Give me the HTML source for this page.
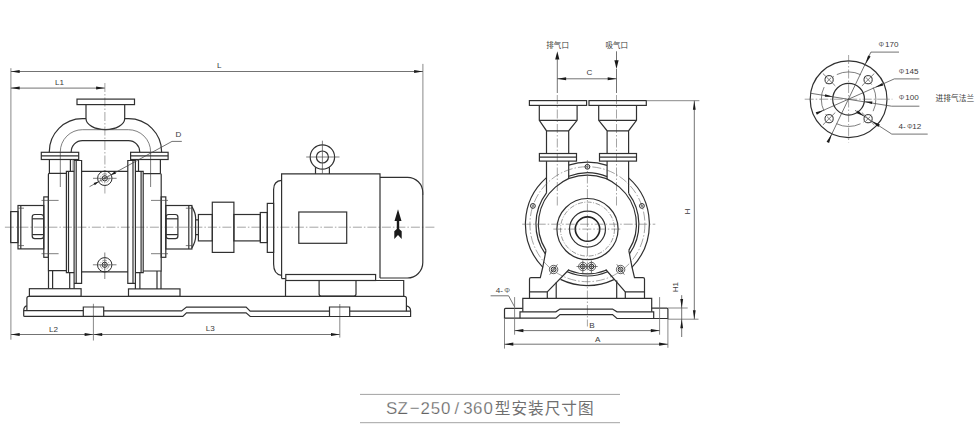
<!DOCTYPE html>
<html><head><meta charset="utf-8"><title>SZ-250/360</title>
<style>
html,body{margin:0;padding:0;background:#fff;}
body{width:980px;height:431px;overflow:hidden;font-family:"Liberation Sans",sans-serif;}
svg{display:block;position:absolute;left:0;top:0}
.m{fill:none;stroke:#303030;stroke-width:1.2}
.k{fill:none;stroke:#222;stroke-width:1.6}
.t{fill:none;stroke:#484848;stroke-width:.7}
.c{fill:none;stroke:#5a5a5a;stroke-width:.55;stroke-dasharray:9 2 1.5 2}
.h{fill:none;stroke:#555;stroke-width:.6;stroke-dasharray:5 1.5 1 1.5}
.d{fill:none;stroke:#444;stroke-width:.75}
.e{fill:none;stroke:#6a6a6a;stroke-width:.8}
.a{fill:#1a1a1a;stroke:none}
.g{fill:#3a3a3a;stroke:none}
.gt{fill:#707070;stroke:none}
.m2{fill:none;stroke:#2b2b2b;stroke-width:1}
.ph{fill:#666}
.t2{fill:none;stroke:#8a8a8a;stroke-width:.5}
.tl{fill:none;stroke:#8a8a8a;stroke-width:.8}
.tt{fill:#646464;stroke:#fff;stroke-width:.25;paint-order:fill stroke}
.b1{fill:#fff;stroke:#3a3a3a;stroke-width:.8}
.b2{fill:none;stroke:#2b2b2b;stroke-width:1}
text{font-family:"Liberation Sans",sans-serif;fill:#3a3a3a}
</style></head><body>
<svg width="980" height="431" viewBox="0 0 980 431">
<g id="side">
<path class="e" d="M10.9,68.2L10.9,339.7"/>
<path class="e" d="M422.9,63.9L422.9,195"/>
<path class="d" d="M10.9,71.5L422.9,71.5"/>
<path class="a" d="M10.9,71.5L19.7,70L19.7,73Z"/>
<path class="a" d="M422.9,71.5L414.1,73L414.1,70Z"/>
<path class="d" d="M10.9,88.1L104.9,88.1"/>
<path class="a" d="M10.9,88.1L19.7,86.5L19.7,89.6Z"/>
<path class="a" d="M104.9,88.1L96.1,89.6L96.1,86.5Z"/>
<text x="219.3" y="67.9" text-anchor="middle" font-size="8.1">L</text>
<text x="59.5" y="84.8" text-anchor="middle" font-size="8.1">L1</text>
<path class="d" d="M10.9,334.5L339.8,334.5"/>
<path class="a" d="M10.9,334.5L19.7,332.9L19.7,336.1Z"/>
<path class="a" d="M93.4,334.5L84.6,336.1L84.6,332.9Z"/>
<path class="a" d="M93.4,334.5L102.2,332.9L102.2,336.1Z"/>
<path class="a" d="M339.8,334.5L331,336.1L331,332.9Z"/>
<text x="53.4" y="331.6" text-anchor="middle" font-size="8.1">L2</text>
<text x="210.2" y="331.2" text-anchor="middle" font-size="8.1">L3</text>
<path class="e" d="M93.4,303.8L93.4,340.5"/>
<path class="e" d="M339.8,304L339.8,337.6"/>
<path class="c" d="M104.9,83L104.9,194"/>
<path class="t" d="M104.8,252.5L104.8,279"/>
<path class="c" d="M4.9,227.2L435.5,227.2"/>
<rect class="m" x="77" y="99.1" width="57.5" height="5.5"/>
<path class="m" d="M86,104.6V118.6A19.35,11 0 0 0 124.7,118.6V104.6"/>
<path class="m" d="M49.3,152.3V151.8A33.1,33.1 0 0 1 82.4,118.6H86"/>
<path class="m" d="M124.7,118.6H128.5A33.1,33.1 0 0 1 161.6,151.8V152.3"/>
<path class="m" d="M71.2,152.3V151.8A11.2,11.2 0 0 1 82.4,140.6H128.5A11.2,11.2 0 0 1 139.7,151.8V152.3"/>
<path class="t" d="M60.3,187V151.8A22.1,22.1 0 0 1 82.4,129.7H128.5A22.1,22.1 0 0 1 150.6,151.8V187"/>
<rect class="m" x="41.3" y="152.3" width="37.4" height="7.2"/>
<path class="m" d="M41.3,155.8L78.7,155.8"/>
<rect class="m" x="130.6" y="152.3" width="37.5" height="7.2"/>
<path class="m" d="M130.6,155.8L168.1,155.8"/>
<path class="m" d="M49.4,159.5L49.4,173.4"/>
<path class="m" d="M70.4,159.5L70.4,171.3"/>
<path class="t2" d="M72.4,159.5L72.4,171.3"/>
<path class="m" d="M160.4,159.5L160.4,173.6"/>
<path class="m" d="M138.5,159.5L138.5,171.3"/>
<path class="m" d="M66.4,173.4H49.4Q48.4,173.4 48.4,174.4V270.7H66.4"/>
<path class="m" d="M74.1,171.3H66.4V272.7H74.1"/>
<path class="m" d="M68.5,171.3L68.5,272.7"/>
<path class="m" d="M74.1,288.7V160.5H81.6V283.3H74.1"/>
<path class="m" d="M76.2,160.5L76.2,283.3"/>
<path class="m" d="M81.6,171.3L128,171.3"/>
<path class="m" d="M81.6,271.8L128,271.8"/>
<path class="m" d="M135.4,288.9V160.5H127.8V283.3H135.4"/>
<path class="m" d="M133,160.5L133,283.3"/>
<path class="m" d="M135.4,171.3H143.2V272.7H135.4"/>
<path class="m" d="M141.1,171.3L141.1,272.7"/>
<path class="m" d="M143.2,173.6H160.2Q161.2,173.6 161.2,174.6V271H143.2"/>
<path class="m" d="M48.5,270.7L48.5,288.7"/>
<path class="m" d="M52.6,270.7L52.6,288.7"/>
<path class="m" d="M69.7,272.7L69.7,288.7"/>
<path class="m" d="M161,271L161,288.9"/>
<path class="m" d="M157,271L157,288.9"/>
<path class="m" d="M139.9,272.7L139.9,288.9"/>
<rect class="m" x="29.4" y="288.7" width="51.7" height="7.7"/>
<rect class="m" x="128.5" y="288.9" width="51.5" height="7.5"/>
<circle class="b2" cx="104.8" cy="178.3" r="7.2"/>
<circle class="h" cx="104.8" cy="178.3" r="4.5"/>
<circle class="b2" cx="104.8" cy="178.3" r="2.6"/>
<circle class="t" cx="104.8" cy="178.3" r="1"/>
<path class="t" d="M93,178.3L116.6,178.3"/>
<circle class="b2" cx="104.7" cy="264.8" r="7.2"/>
<circle class="h" cx="104.7" cy="264.8" r="4.5"/>
<circle class="b2" cx="104.7" cy="264.8" r="2.6"/>
<circle class="t" cx="104.7" cy="264.8" r="1"/>
<path class="t" d="M92.9,264.8L116.5,264.8"/>
<path class="d" d="M181.8,141.4H172L89.5,186.7"/>
<path class="a" d="M110.8,175L114.7,171.3L116,173.7Z"/>
<path class="a" d="M98.8,181.6L94.9,185.3L93.6,182.9Z"/>
<text x="178.5" y="137.2" text-anchor="middle" font-size="8.1">D</text>
<rect class="m" x="10.7" y="211.6" width="7.3" height="31"/>
<rect class="m" x="18" y="205.5" width="25.8" height="43.4"/>
<path class="m" d="M20.8,205.5L20.8,248.9"/>
<rect class="m" x="43.8" y="196.9" width="4.6" height="60.4"/>
<rect class="m" x="32.2" y="214.5" width="11.4" height="24.2" rx="2.6"/>
<path class="m" d="M32.2,218.8L43.6,218.8"/>
<path class="m" d="M32.2,234.6L43.6,234.6"/>
<path class="t" d="M41.5,200.4L58.6,200.4"/>
<path class="t" d="M41.5,253.7L58.6,253.7"/>
<path class="t" d="M18,208.2L24,208.2"/>
<path class="t" d="M18,245.6L24,245.6"/>
<rect class="m" x="161.2" y="196.9" width="4.6" height="60.4"/>
<rect class="m" x="165.8" y="205.5" width="26.1" height="43.5"/>
<path class="m" d="M188.8,205.5L188.8,249"/>
<rect class="m" x="166" y="214.5" width="11.9" height="24.2" rx="2.6"/>
<path class="m" d="M166,218.8L177.9,218.8"/>
<path class="m" d="M166,234.6L177.9,234.6"/>
<path class="t" d="M151,200.4L168,200.4"/>
<path class="t" d="M151,253.7L168,253.7"/>
<path class="t" d="M185.8,208.2L191.9,208.2"/>
<path class="t" d="M185.8,245.6L191.9,245.6"/>
<path class="m" d="M191.9,206.6C193.5,209.5 195.6,213 195.6,217.5V237C195.6,241.5 193.5,245 191.9,247.9"/>
<path class="m" d="M195.6,219.8H198.4M195.6,234.6H198.4"/>
<rect class="m" x="198.4" y="214.5" width="13.9" height="26.4"/>
<rect class="m" x="212.3" y="202.2" width="21.6" height="50.2"/>
<rect class="m" x="233.9" y="214.5" width="26.4" height="26.4"/>
<rect class="m" x="260.3" y="212.5" width="7" height="30.1"/>
<rect class="m" x="267.3" y="203.4" width="6.3" height="49"/>
<path class="m" d="M281.6,278.6V173.9H380V277.9"/>
<path class="m" d="M281.6,180.4Q273.6,181 273.6,189.5V264Q273.6,274.5 281.6,275.3"/>
<path class="m" d="M380,177.3H407.5A15.3,15.3 0 0 1 422.8,192.6V262.6A15.4,15.4 0 0 1 407.4,278H380"/>
<rect class="m" x="298.8" y="212" width="47.9" height="31.3"/>
<circle class="m" cx="322.4" cy="157" r="12.2"/>
<circle class="m" cx="322.4" cy="157" r="6"/>
<path class="m" d="M315.5,167.2L315.5,173.9"/>
<path class="m" d="M329.4,167.2L329.4,173.9"/>
<path class="t" d="M306.2,157L339.5,157"/>
<path class="t" d="M322.4,140.7L322.4,173.9"/>
<path class="a" d="M398,209.3L401.5,220.9H399.2V229L401.7,231.2V238.9L398,234.9L394.3,238.9V231.2L396.8,229V220.9H394.5Z"/>
<rect class="m" x="285.8" y="274.5" width="89.8" height="6"/>
<path class="m" d="M281.6,278.6H285.6"/>
<path class="m" d="M285.5,280.5V296.4M375.6,280.5H403.7V296.4"/>
<path class="m" d="M319.1,280.5V294Q319.1,296 321.1,296H354Q356,296 356,294V280.5"/>
<path class="m" d="M26.9,310.9V298.2Q26.9,296.3 28.9,296.3H404.4Q406.4,296.3 406.4,298.2V311.2"/>
<path class="m" d="M26.9,305.8Q23.7,306.3 23.7,310.6V315.4Q23.7,316.4 24.7,316.4H182.8L186.5,312.9H246.1L250.2,316.5H410.6V311Q410.6,306.6 406.4,305.8"/>
<path class="m" d="M23.7,310.7H83.3M103.7,310.9H181.6L186.5,307.1H246.1L250.2,311.2H329.5M349.7,311.2H410.6"/>
<path class="m" d="M83.3,316.4V307H103.7V316.4M329.5,316.5V307H349.7V316.5"/>
</g>
<g id="front">
<text class="g" y="47.9" font-size="7.5" x="546.3 553.8 561.4" style="font-family:'Liberation Sans','Noto Sans CJK SC',sans-serif">排气口</text>
<text class="g" y="47.9" font-size="7.5" x="605.4 612.9 620.5" style="font-family:'Liberation Sans','Noto Sans CJK SC',sans-serif">吸气口</text>
<path class="a" d="M557.3,51.3L559.4,59.5L555.2,59.5Z"/>
<path class="d" d="M557.3,59L557.3,93"/>
<path class="c" d="M557.3,95L557.3,207"/>
<path class="d" d="M616.5,51.3L616.5,61"/>
<path class="a" d="M616.5,69L614.4,60.3L618.6,60.3Z"/>
<path class="d" d="M616.5,69L616.5,93"/>
<path class="c" d="M616.5,95L616.5,207"/>
<path class="d" d="M557.3,78.8L616.5,78.8"/>
<path class="a" d="M557.3,78.8L566.1,77.2L566.1,80.3Z"/>
<path class="a" d="M616.5,78.8L607.7,80.3L607.7,77.2Z"/>
<text x="589.5" y="75.4" text-anchor="middle" font-size="8.1">C</text>
<rect class="m" x="529.4" y="100.6" width="57.2" height="4.8"/>
<rect class="m" x="589" y="100.6" width="57.3" height="4.8"/>
<path class="m" d="M539.3,105.4V120.3L546.5,130.8V153.5M577.1,105.4V120.3L568.7,130.8V153.5M539.3,120.3H577.1M546.5,130.8H568.7"/>
<path class="m" d="M598.7,105.4V120.3L607.1,130.8V153.5M636.5,105.4V120.3L628.6,130.8V153.5M598.7,120.3H636.5M607.1,130.8H628.6"/>
<rect class="m" x="539.4" y="153.5" width="37.1" height="7.6"/>
<path class="m" d="M539.4,157.1L576.5,157.1"/>
<rect class="m" x="599.5" y="153.5" width="37" height="7.6"/>
<path class="m" d="M599.5,157.1L636.5,157.1"/>
<path class="m" d="M546.5,161.1L546.5,192.9"/>
<path class="m" d="M568.7,161.1L568.7,178.9"/>
<path class="m" d="M607.1,161.1L607.1,179.3"/>
<path class="m" d="M628.6,161.1L628.6,193.3"/>
<path class="m" d="M542.9,267.3A62,62 0 0 1 546.5,177.6"/>
<path class="m" d="M568.7,165.1A62,62 0 0 1 607.1,165.4"/>
<path class="m" d="M628.6,177.9A62,62 0 0 1 631.9,267.3"/>
<path class="m" d="M613.9,279.6A61.4,61.4 0 0 1 560.5,279.4"/>
<circle class="c" cx="587.4" cy="224.2" r="57.5"/>
<path class="m" d="M545.3,253.8A51.5,51.5 0 0 1 546.5,192.9"/>
<path class="m" d="M568.7,176.2A51.5,51.5 0 0 1 607.1,176.6"/>
<path class="m" d="M628.6,193.3A51.5,51.5 0 0 1 629.5,253.8"/>
<path class="m" d="M546,250.4A49,49 0 1 1 628.8,250.4"/>
<path class="m" d="M606,270.2A49.6,49.6 0 0 1 568.8,270.2"/>
<path class="m" d="M607.6,271.7A51.6,51.6 0 0 1 567.2,271.7"/>
<path class="m" d="M546,250.4L542.7,267.5L540.3,277.6H531Q529.5,277.6 529.5,279.1V298.3"/>
<path class="m" d="M628.8,250.4L632.1,267.5L634.5,277.6H643Q644.5,277.6 644.5,279.1V298.3"/>
<path class="m" d="M529.5,291.9H547.3V298.3M644.5,291.9H625.3V298.3"/>
<path class="m" d="M569.1,269.5L547.3,291.9M605.7,269.5L625.3,291.9"/>
<path class="m" d="M556.2,282.6V298.3M616.7,280.6V298.3"/>
<circle class="m" cx="587.5" cy="229.1" r="30.6"/>
<circle class="h" cx="587.5" cy="229.1" r="27"/>
<circle class="m" cx="587.5" cy="229.1" r="18"/>
<circle class="k" cx="587.5" cy="229.1" r="12.2"/>
<path class="c" d="M522.2,224.2L655.3,224.2"/>
<path class="c" d="M553.3,229.1L621,229.1"/>
<path class="c" d="M587.4,160L587.4,326.5"/>
<circle class="b2" cx="587.4" cy="166.8" r="2.4"/>
<circle class="t" cx="587.4" cy="166.8" r="0.8"/>
<circle class="b2" cx="532.9" cy="205.9" r="2.4"/>
<circle class="t" cx="532.9" cy="205.9" r="0.8"/>
<circle class="b2" cx="641.9" cy="205.9" r="2.4"/>
<circle class="t" cx="641.9" cy="205.9" r="0.8"/>
<circle class="b1" cx="553.6" cy="269.5" r="4.2"/>
<circle class="b2" cx="553.6" cy="269.5" r="2.4"/>
<circle class="t" cx="553.6" cy="269.5" r="1"/>
<path class="t" d="M557.5,264.3L549.7,274.7"/>
<circle class="b1" cx="620.6" cy="269.5" r="4.2"/>
<circle class="b2" cx="620.6" cy="269.5" r="2.4"/>
<circle class="t" cx="620.6" cy="269.5" r="1"/>
<path class="t" d="M616.8,264.3L624.4,274.7"/>
<circle class="b1" cx="582.8" cy="266.5" r="4.2"/>
<circle class="b2" cx="582.8" cy="266.5" r="2.4"/>
<circle class="t" cx="582.8" cy="266.5" r="1"/>
<path class="t" d="M582.8,260.5L582.8,273.5"/>
<circle class="b1" cx="591.4" cy="266.5" r="4.2"/>
<circle class="b2" cx="591.4" cy="266.5" r="2.4"/>
<circle class="t" cx="591.4" cy="266.5" r="1"/>
<path class="t" d="M591.4,260.5L591.4,273.5"/>
<path class="t" d="M576.5,266.5L597.7,266.5"/>
<path class="m" d="M522.8,311.8V298.3H651.7V311.8"/>
<path class="m" d="M522.8,308.4H505.5Q504.5,308.4 504.5,309.4V318.2H555.9L560,314.6H612.5L617,318.5H667.9V309.2Q667.9,308.2 666.9,308.2H651.7"/>
<path class="m" d="M520,318.2V311.8H555.9L560,309.1H612.5L617,311.8H653.7V318.5"/>
<text y="292.8" font-size="8.1"><tspan x="495.7">4-</tspan><tspan x="504.2" font-size="7.2" class="ph">Φ</tspan></text>
<path class="d" d="M490.6,295.8H508.6L514.6,306.9"/>
<path class="e" d="M514.6,297.1L514.6,334.7"/>
<path class="e" d="M659.6,297.1L659.6,334.7"/>
<path class="e" d="M504.5,318.2L504.5,348.6"/>
<path class="e" d="M667.9,318.5L667.9,347.8"/>
<path class="d" d="M514.6,330.6L659.6,330.6"/>
<path class="a" d="M514.6,330.6L523.4,329.1L523.4,332.2Z"/>
<path class="a" d="M659.6,330.6L650.8,332.2L650.8,329.1Z"/>
<path class="d" d="M504.5,344.2L667.9,344.2"/>
<path class="a" d="M504.5,344.2L513.3,342.6L513.3,345.8Z"/>
<path class="a" d="M667.9,344.2L659.1,345.8L659.1,342.6Z"/>
<text x="591.9" y="327.7" text-anchor="middle" font-size="8.1">B</text>
<text x="597.6" y="341.5" text-anchor="middle" font-size="8.1">A</text>
<path class="e" d="M646.3,100.7L699.4,100.7"/>
<path class="e" d="M667.9,319.2L698.5,319.2"/>
<path class="d" d="M694.3,100.7L694.3,319.2"/>
<path class="a" d="M694.3,100.7L695.7,109.7L692.9,109.7Z"/>
<path class="a" d="M694.3,319.2L692.9,310.2L695.7,310.2Z"/>
<text x="0" y="0" text-anchor="middle" font-size="8.1" transform="translate(689.5,211.5) rotate(-90)">H</text>
<path class="e" d="M667.9,308L687.7,308"/>
<path class="d" d="M681.7,295.2L681.7,337"/>
<path class="a" d="M681.7,308L680.3,299L683.1,299Z"/>
<path class="a" d="M681.7,319.2L683.1,328.2L680.3,328.2Z"/>
<text x="0" y="0" text-anchor="middle" font-size="8.1" transform="translate(677.8,287.2) rotate(-90)">H1</text>
</g>
<g id="flange">
<circle class="m" cx="848.6" cy="99.2" r="38.4"/>
<circle class="m" cx="848.6" cy="99.2" r="15.9"/>
<circle class="t" cx="848.6" cy="99.2" r="27.3" stroke-dasharray="24.8 4 1.5 7.78 1.5 3.3" stroke-dashoffset="12.4"/>
<path class="c" d="M804.7,99.2L892.4,99.2"/>
<path class="c" d="M848.6,55L848.6,142.4"/>
<circle class="m2" cx="829.1" cy="79.7" r="4.1"/>
<path class="t" d="M835.3,85.9L822.9,73.5"/>
<path class="t" d="M831.3,77.5L826.9,81.9"/>
<circle class="m2" cx="829.1" cy="118.7" r="4.1"/>
<path class="t" d="M835.3,112.5L822.9,124.9"/>
<path class="t" d="M831.3,120.9L826.9,116.5"/>
<circle class="m2" cx="868.1" cy="79.7" r="4.1"/>
<path class="t" d="M861.9,85.9L874.3,73.5"/>
<path class="t" d="M865.9,77.5L870.3,81.9"/>
<circle class="m2" cx="868.1" cy="118.7" r="4.1"/>
<path class="t" d="M861.9,112.5L874.3,124.9"/>
<path class="t" d="M865.9,120.9L870.3,116.5"/>
<path class="d" d="M899,52.1H870.9L827.9,142.2"/>
<path class="a" d="M865.3,64.6L868.1,55.4L870.6,56.6Z"/>
<path class="a" d="M831.9,133.8L829.1,143L826.6,141.8Z"/>
<path class="d" d="M919.4,78.9H894.3L817.3,113"/>
<path class="a" d="M875,87.6L882.2,82.9L883.3,85.4Z"/>
<path class="a" d="M823.6,110.2L816.9,114.7L815.7,112.2Z"/>
<path class="d" d="M919.4,106.2H891.6L810.1,93.2"/>
<path class="a" d="M864.3,101.6L872.4,101.6L872,104.1Z"/>
<path class="a" d="M832.9,96.8L824.8,96.8L825.2,94.3Z"/>
<path class="d" d="M927.7,134.1H891.8L855,110.3"/>
<path class="a" d="M864.6,116.5L856.3,112.9L857.9,110.4Z"/>
<path class="a" d="M871.6,120.9L879.9,124.5L878.3,127Z"/>
<text y="47.2" font-size="8.1"><tspan x="878.4" font-size="7" class="ph">Φ</tspan><tspan x="885">170</tspan></text>
<text y="74.1" font-size="8.1"><tspan x="898.7" font-size="7" class="ph">Φ</tspan><tspan x="905">145</tspan></text>
<text y="100.4" font-size="8.1"><tspan x="898.7" font-size="7" class="ph">Φ</tspan><tspan x="905.3">100</tspan></text>
<text y="128.7" font-size="8.1"><tspan x="898.6">4-</tspan><tspan x="906.9" font-size="7" class="ph">Φ</tspan><tspan x="912.2">12</tspan></text>
<text class="g" y="101.2" font-size="7.7" x="935.6 943.3 951 958.7 966.4" style="font-family:'Liberation Sans','Noto Sans CJK SC',sans-serif">进排气法兰</text>
</g>
<g id="title">
<path class="tl" d="M360,394.4L620,394.4"/>
<path class="tl" d="M360,422.7L620,422.7"/>
<text class="tt" y="414" font-size="16.9" x="385.9 397.6 409.7 420.5 430.8 441.1 451 454.6 459 463.2 473 483.4">SZ−250 / 360</text>
<text class="gt" y="413.9" font-size="15.6" x="494.7 511.4 528 544.7 561.3 578" style="font-family:'Liberation Sans','Noto Sans CJK SC',sans-serif">型安装尺寸图</text>
</g>
</svg>
</body></html>
